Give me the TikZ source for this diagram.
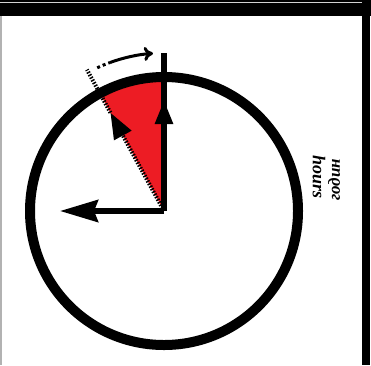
\documentclass[tikz,border=0pt]{standalone}
\usepackage{fontspec}
\setmainfont{Liberation Serif}
\usetikzlibrary{arrows.meta}
\definecolor{sectorred}{RGB}{237,28,36}

\begin{document}
\begin{tikzpicture}[x=1pt,y=-1pt,
  hand/.style={line width=5.5pt},
  unitlabel/.style={font=\bfseries\itshape\fontsize{18}{18}\selectfont,inner sep=0pt}]
  \useasboundingbox (0,0) rectangle (371,365);
  % Frame of the panel
  \fill[black] (0,0) rectangle (371,16);
  \draw[gray!35,line width=1pt] (0,2.5) -- (363,2.5);
  \fill[black] (362,0) rectangle (370,365);
  \draw[gray!60,line width=1.5pt] (0.75,16) -- (0.75,365);

  % Centre, hand ends and the turned radius
  \coordinate (c) at (164,211);
  \coordinate (twelve) at (164,53);
  \coordinate (twelvetip) at (164,100);
  \coordinate (nine) at (60,211);
  \coordinate (turntip) at ([shift={(-118.6:112)}]c);
  \coordinate (turnend) at ([shift={(-118.6:161)}]c);
  \coordinate (rim) at ([shift={(-118.6:134)}]c);

  % Swept sector
  \fill[sectorred] (c) -- (rim) arc[start angle=-118.6,end angle=-90,radius=134] -- cycle;

  % Clock face
  \draw[line width=10pt] (c) circle[radius=134];

  % Hands
  \draw[hand] (c) -- (twelve);
  \draw[hand,-{Triangle[length=24pt,width=17pt]}] (c) -- (twelvetip);
  \draw[hand,-{Stealth[length=38pt,width=22pt,inset=4pt]}] (c) -- (nine);
  \draw[line width=4pt,dash pattern=on 1.5pt off 1.5pt,
    -{Triangle[length=26pt,width=19pt]}] (c) -- (turntip);
  \draw[line width=4pt,dash pattern=on 1.5pt off 1.5pt] (turntip) -- (turnend);

  % Direction of turning
  \draw[line width=3pt,dash pattern=on 3pt off 3pt]
    ([shift={(-115:158)}]c) arc[start angle=-115,end angle=-110,radius=158];
  \draw[line width=3pt,-{To[length=9pt,width=14pt]}]
    ([shift={(-110:158)}]c) arc[start angle=-110,end angle=-94,radius=158];

  % Units
  \node[unitlabel,rotate=-90] (hrs) at (319,177) {hours};
  \node[unitlabel,rotate=90,font=\bfseries\itshape\fontsize{17}{17}\selectfont]
    (hdn) at (334,180) {годин};
\end{tikzpicture}
\end{document}
